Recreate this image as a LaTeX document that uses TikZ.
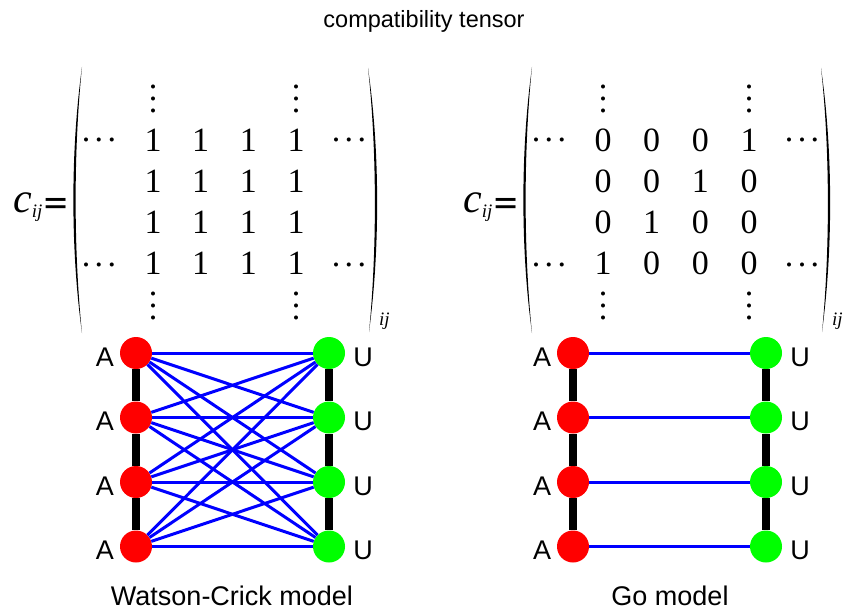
\documentclass[tikz,border=0pt]{standalone}
\usepackage{fontspec}
\setmainfont{Liberation Sans}
\newfontfamily\timesfont{Liberation Serif}
\tikzset{every text node part/.style={align=center}}
\tikzset{
	nuc/.style={circle, inner sep=0pt, minimum size=32pt},
	nucA/.style={nuc, fill=red},
	nucU/.style={nuc, fill=green},
	spine/.style={line width=8pt, black},
	bond/.style={line width=3pt, blue},
	nuclabel/.style={inner sep=0pt, anchor=base, font=\fontsize{27}{27}\selectfont},
	mentry/.style={inner sep=0pt, anchor=base, font=\timesfont\fontsize{34}{34}\selectfont},
	mdots/.style={inner sep=0pt, font=\timesfont\fontsize{34}{34}\selectfont},
	coef/.style={inner sep=0pt, anchor=base west, font=\timesfont\itshape\fontsize{42}{42}\selectfont},
	equal/.style={inner sep=0pt, anchor=base west, font=\bfseries\fontsize{36}{36}\selectfont},
	heading/.style={inner sep=0pt, anchor=base, font=\fontsize{23.5}{24}\selectfont}
}
\newcommand{\vdts}{\vbox{\baselineskip=12pt\hbox{.}\hbox{.}\hbox{.}}}
\newcommand{\hdts}{.\kern4.5pt.\kern4.5pt.}
% #1 name, #2 shift, #3 extra width, #4 entries
\newcommand{\tensor}[4]{%
	\begin{scope}[xshift=#2pt]
		% c_ij =
		\node[coef] (#1c) at (13,212) {c\raisebox{-5pt}{\fontsize{19}{19}\selectfont ij}};
		\node[equal] (#1eq) at (44,212) {\scalebox{1.1}[0.75]{=}};
		% brackets
		\fill (82,67) .. controls (70.5,150) and (70.5,250) .. (82,333)
			.. controls (73.5,250) and (73.5,150) .. (82,67);
		\fill (368+#3,68) .. controls (380+#3,150) and (380+#3,250) .. (369+#3,332)
			.. controls (377+#3,250) and (377+#3,150) .. (368+#3,68);
		\node[coef, font=\timesfont\itshape\fontsize{19}{19}\selectfont] (#1ij) at (379+#3,325) {ij};
		% entries
		\foreach \row [count=\r] in {#4} {
			\foreach \val [count=\s] in \row {
				\node[mentry] (#1e\r\s) at ({153+(143+#3)/3*(\s-1)}, {151+41.3*(\r-1)}) {\val};
			}
		}
		% dots
		\node[mdots] (#1vt1) at (153,99) {\vdts};
		\node[mdots] (#1vt4) at (296+#3,99) {\vdts};
		\node[mdots] (#1vb1) at (153,306) {\vdts};
		\node[mdots] (#1vb4) at (296+#3,306) {\vdts};
		\node[mdots] (#1hl1) at (99,140) {\hdts};
		\node[mdots] (#1hr1) at (349+#3,140) {\hdts};
		\node[mdots] (#1hl4) at (99,265) {\hdts};
		\node[mdots] (#1hr4) at (349+#3,265) {\hdts};
	\end{scope}
}
\newcommand{\strand}[2]{%
	\foreach \k in {1,...,4} {
		\node[nucA] (#1a\k) at (#2, {353+64.5*(\k-1)}) {};
		\node[nucU] (#1u\k) at (#2+193, {353+64.5*(\k-1)}) {};
		\node[nuclabel] (#1la\k) at (#2-31, {366+64.5*(\k-1)}) {A};
		\node[nuclabel] (#1lu\k) at (#2+227, {366+64.5*(\k-1)}) {U};
	}
	\foreach \k [evaluate=\k as \n using int(\k+1)] in {1,2,3} {
		\draw[spine] (#1a\k) -- (#1a\n);
		\draw[spine] (#1u\k) -- (#1u\n);
	}
}

\begin{document}
\begin{tikzpicture}[x=1pt, y=-1pt]
	\useasboundingbox (0,0) rectangle (845,615);

	% Title
	\node[heading] (title) at (424,28) {compatibility tensor};

	% Tensors
	\tensor{L}{0}{0}{{1,1,1,1},{1,1,1,1},{1,1,1,1},{1,1,1,1}}
	\tensor{R}{450}{3}{{0,0,0,1},{0,0,1,0},{0,1,0,0},{1,0,0,0}}

	% Strands
	\strand{L}{136}
	\strand{R}{573}

	% Watson-Crick: every A pairs with every U
	\foreach \i in {1,...,4} {
		\foreach \j in {1,...,4} {
			\draw[bond] (La\i) -- (Lu\j);
		}
	}
	% Go: only native pairs
	\foreach \i in {1,...,4} {
		\draw[bond] (Ra\i) -- (Ru\i);
	}

	% Captions
	\node[nuclabel] (wc) at (232,605) {Watson-Crick model};
	\node[nuclabel] (go) at (670,605) {Go model};
\end{tikzpicture}
\end{document}
